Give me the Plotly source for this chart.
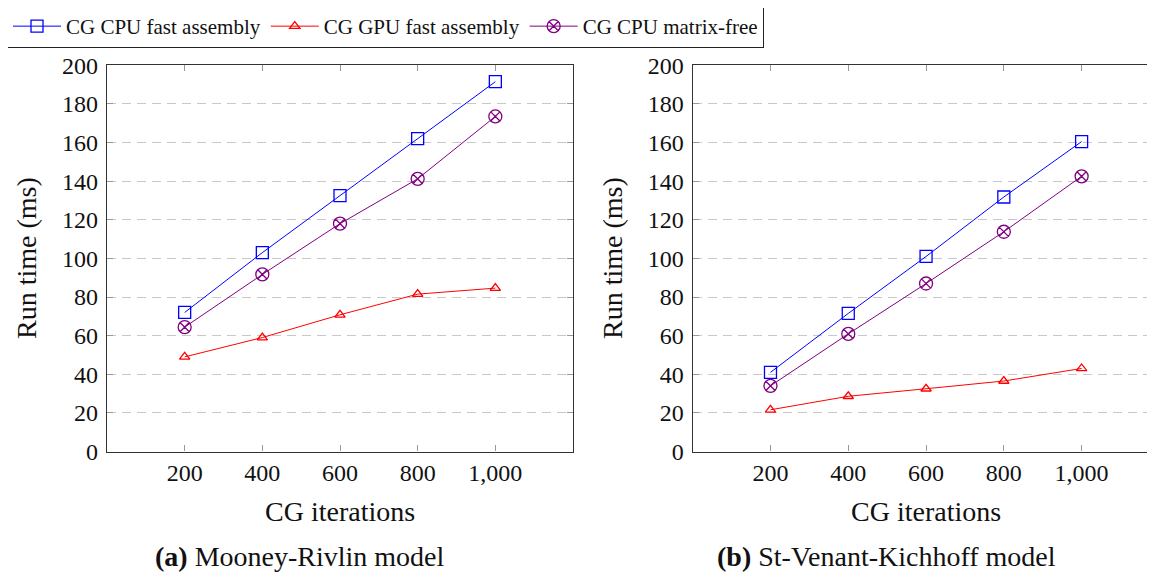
import plotly.graph_objects as go

iterations = [200, 400, 600, 800, 1000]
series_names = ["CG CPU fast assembly", "CG GPU fast assembly", "CG CPU matrix-free"]

# (a) Mooney-Rivlin model
mr_cpu_fast = [72, 103, 132.5, 162, 191.5]
mr_gpu_fast = [49, 59, 70.8, 81.5, 84.6]
mr_cpu_free = [64.4, 91.7, 118, 141.2, 173.5]

# (b) St-Venant-Kichhoff model
svk_cpu_fast = [41, 71.5, 101, 131.8, 160.5]
svk_gpu_fast = [21.6, 28.6, 32.5, 36.5, 43]
svk_cpu_free = [34, 60.9, 87, 113.8, 142.5]

y_ticks = [0, 20, 40, 60, 80, 100, 120, 140, 160, 180, 200]
x_ticks = [200, 400, 600, 800, 1000]
x_tick_labels = ["200", "400", "600", "800", "1,000"]

FONT = "Liberation Serif"
W, H = 1155, 577
OFF = 8  # page body margin

colors = ["#0000ff", "#ff0000", "#800080"]
symbols = ["square-open", "triangle-up-open", "circle-x-open"]
sizes = [12, 9, 13]

fig = go.Figure()

for panel, (vals, xa, ya) in enumerate([
    ((mr_cpu_fast, mr_gpu_fast, mr_cpu_free), "x", "y"),
    ((svk_cpu_fast, svk_gpu_fast, svk_cpu_free), "x2", "y2"),
]):
    for i, v in enumerate(vals):
        fig.add_trace(go.Scatter(
            x=iterations, y=v, mode="lines+markers",
            name=series_names[i], showlegend=(panel == 0),
            line=dict(color=colors[i], width=1),
            marker=dict(symbol=symbols[i], size=sizes[i], color=colors[i],
                        line=dict(color=colors[i], width=1.3)),
            xaxis=xa, yaxis=ya,
        ))

def px_x(p):
    return (p - OFF) / W

def px_y(p):
    return 1 - (p - OFF) / H

ydom = [px_y(451.5), px_y(65.3)]

axis_common = dict(
    showline=True, linecolor="#333333", linewidth=1.2,
    ticks="inside", ticklen=6, tickcolor="#999999", tickwidth=1,
    tickfont=dict(family=FONT, size=24, color="#111111"),
    zeroline=False,
)

GRID = dict(showgrid=True, gridcolor="#c8c8c8", griddash="9px,6px", gridwidth=1)

fig.update_layout(
    width=W, height=H,
    margin=dict(l=0, r=0, t=0, b=0, autoexpand=False),
    plot_bgcolor="white", paper_bgcolor="white",
    font=dict(family=FONT, color="#111111"),
    xaxis=dict(domain=[px_x(107), px_x(573)], range=[0, 1200],
               tickvals=x_ticks, ticktext=x_tick_labels, mirror="ticks",
               showgrid=False, anchor="y", **axis_common),
    yaxis=dict(domain=ydom, range=[0, 200], tickvals=y_ticks, mirror="ticks",
               anchor="x", ticklabelstandoff=3, **GRID, **axis_common),
    xaxis2=dict(domain=[px_x(692.7), px_x(1159.4)], range=[0, 1200],
                tickvals=x_ticks, ticktext=x_tick_labels, mirror="ticks",
                showgrid=False, anchor="y2", **axis_common),
    yaxis2=dict(domain=ydom, range=[0, 200], tickvals=y_ticks, mirror="ticks",
                anchor="x2", ticklabelstandoff=3, **GRID, **axis_common),
    legend=dict(orientation="h", x=px_x(7), y=px_y(5), xanchor="left", yanchor="top",
                bordercolor="#222222", borderwidth=1,
                font=dict(family=FONT, size=21, color="#111111"),
                itemwidth=48, tracegroupgap=0),
    showlegend=True,
)

TS = 28
annotations = [
    dict(text="CG iterations", x=px_x(340), y=px_y(511), xref="paper", yref="paper",
         showarrow=False, font=dict(family=FONT, size=TS), xanchor="center", yanchor="middle"),
    dict(text="CG iterations", x=px_x(926), y=px_y(511), xref="paper", yref="paper",
         showarrow=False, font=dict(family=FONT, size=TS), xanchor="center", yanchor="middle"),
    dict(text="Run time (ms)", x=px_x(26), y=px_y(258), xref="paper", yref="paper",
         showarrow=False, textangle=-90, font=dict(family=FONT, size=TS),
         xanchor="center", yanchor="middle"),
    dict(text="Run time (ms)", x=px_x(612), y=px_y(258), xref="paper", yref="paper",
         showarrow=False, textangle=-90, font=dict(family=FONT, size=TS),
         xanchor="center", yanchor="middle"),
    dict(text="<b>(a)</b> Mooney-Rivlin model", x=px_x(300), y=px_y(556), xref="paper", yref="paper",
         showarrow=False, font=dict(family=FONT, size=TS), xanchor="center", yanchor="middle"),
    dict(text="<b>(b)</b> St-Venant-Kichhoff model", x=px_x(886), y=px_y(556), xref="paper", yref="paper",
         showarrow=False, font=dict(family=FONT, size=TS), xanchor="center", yanchor="middle"),
]
fig.update_layout(annotations=annotations)

fig.write_html("out.html")
